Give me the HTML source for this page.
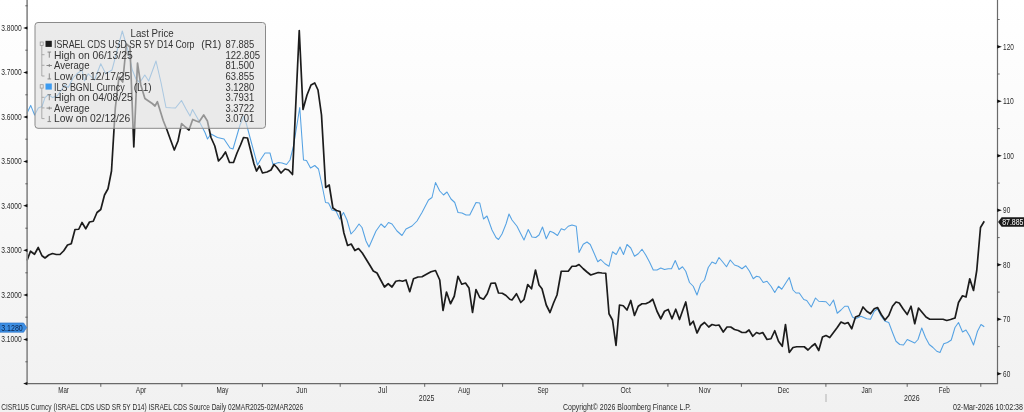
<!DOCTYPE html>
<html><head><meta charset="utf-8"><title>Chart</title>
<style>html,body{margin:0;padding:0;background:#fff}svg{display:block}text{font-family:"Liberation Sans",sans-serif;fill:#2a2a2a}.lg text{fill:#333}</style></head><body>
<svg width="1024" height="412" viewBox="0 0 1024 412">
<defs><linearGradient id="bg" x1="0" y1="0" x2="0" y2="1"><stop offset="0" stop-color="#ffffff"/><stop offset="1" stop-color="#f1f1f1"/></linearGradient></defs>
<rect x="0" y="0" width="1024" height="412" fill="url(#bg)"/>
<polyline points="26.8,113.5 30.7,105.4 34.6,115 38.3,108 42,106.5 45,97.6 48.5,94.5 52.5,97.6 57,96 60.75,91 64.5,85 68.25,87.5 73.25,77.5 77,73.75 82,70 84.5,81 88.25,73.75 94.5,80 100.75,63.75 105.75,73.75 112,70 122.3,31 128.5,52.5 132.3,70 136,79 139.8,82.5 144.8,75 148.7,81 156,61 161,82.5 166,107.5 170.5,107.8 175.5,108 181.5,100.5 186,109 190,116 192.5,109.5 198.5,120 205,132.5 207.5,139 211,134 217.5,137.5 224,139 230,148 233,149 240,125 244,116 246,122.5 250,137.5 257.5,165 261,159 265,153 270,153 273,164.5 278.5,162.5 282,163 286.5,164.5 290,160 293.5,146 299.75,107.5 303.5,160 306.5,160.5 310.5,168 314.75,165.5 318.5,169 322,185 325.5,202.5 328.5,203 332,210 336,211 339.75,219 343.5,212.5 347,220 351,234 354.75,230 359,224 362,227.5 366,241 369,247 376,231 381,224 384.75,227.5 388.5,222.5 392,224 397,231 402,235.5 406,229 412,226 417,221 422,212.5 428.5,200 432,197.5 435.5,182.5 439.75,191 443.5,195 447,192 451,199 454.75,202.5 458,212.5 462,213 466,215 469.75,215 476,202.5 479.75,203 483.5,219 487,216 492,230 496,237.5 498.5,239.5 502,234 506,224 509,214 512,220 517,226.25 520.75,233.75 524,240 528.25,229.5 532,237 535.75,237.5 539,235 542.5,227 546.25,238.75 550,231.25 553.25,232.5 557.5,235.5 561.25,228.75 564.5,230 568.25,226.25 572,225 576.25,226.25 579,252.5 583.25,244.25 587,242 590.25,244.5 594,253 597.75,261.75 600.75,259.5 605,263.75 609,266.25 612.5,251.75 616.25,254.5 620,247 623.5,254.5 627,244.5 630.75,248 634.5,256.25 638.25,253.75 642,249.25 645.75,255 649.5,262 653.25,270 657,270 660.75,268 664.5,269.5 668.25,268.75 671.5,268.75 675.25,260.5 679,269.5 682.5,266.75 685.75,271.25 689.5,282.5 693.25,286.25 697,295 700.75,283.75 704.5,280 708.25,267.5 712,262 715.75,263.75 719,257.5 722.75,262 726.5,266.75 730.25,260 734.5,265 738.25,266.25 742,268.75 745.75,265.75 749.5,271.25 753.25,278.75 756.5,276.25 759.5,277 763.25,282.5 767,281.25 771,286.25 774.75,292.5 778.5,286.25 781.75,289.25 789.25,277.5 793,290 796,293 799.25,293 803.75,299.5 806.75,300.5 811.25,307 815.5,298 818.75,301.25 826,301.75 829.75,305.75 833.5,300 837.25,313.25 841,310 844.75,306.25 848,306.25 852.5,317 855.5,318.75 861,316.25 866.75,318.75 870.5,319.25 874.25,311.25 877.5,308.75 881.25,316.25 885,321.25 888.75,322.5 892.5,332.5 896,341.25 899.75,344.5 903.5,345 907.25,339.5 911,341.25 914.75,343 918,339.5 921.75,328 925.5,337.5 929.25,344.5 933,347.5 936.75,351.25 940,352.5 943.75,343.75 947.5,342.5 951.25,340 955,327.5 958.5,322.5 962.5,332 966,330 969.75,336.25 973.5,345 977.5,331.25 981,324.5 984.25,326.75" fill="none" stroke="#55a2e3" stroke-width="1.05" stroke-linejoin="round"/>
<polyline points="27,260.5 30.5,251.25 34.5,254.25 38.25,247.5 42,255.75 45,258 48.75,255 52.5,253.5 56.25,254.5 60,254.5 63.75,250.75 67.5,245 71.25,243.75 75,229.5 78.75,229.25 82,222.5 85.75,228.75 89.5,222 93.25,221.25 97,212.5 100.75,209.5 104.5,195 108,188.75 111.5,171 115.3,108 119,77 122.7,82 126.4,44 130,47 133.8,147 137.5,63 140.8,85 144.9,98.5 148.5,101 152.2,103.5 155,106 157.4,101.7 163.2,120.5 167,130 170.6,140 174.3,150 178,141 181.6,123.5 185.3,127 189,130 192.7,119.5 196.3,121 199,122 203.7,115 207.4,121 211,137.5 214.8,146 218.5,161 222.2,157 225.5,152 229.5,162.5 233.5,162.5 237,153 240.5,145 243.5,137.5 247.5,138 251,152 254,164 256.5,171 259.5,166 262.5,173 267,172 271,170 274,164.5 277,167.5 281,173 285,169 288.5,170 292.5,174.5 299.25,30.5 303,109.5 307,95 311,85 314.75,83 318,90 321.5,115 325.7,187.5 329.2,185 332.9,208 336.5,210.5 340,211.5 343.9,233 347.6,245.5 351.2,244 354.9,250.5 358.5,248.5 362.3,253 366,259 369.7,265 373.3,271 377,273 380.7,280 384.5,287 388.2,283.75 392,287 395.8,281.25 399.5,280.5 402.5,281.25 406,280 409.75,291.75 413.5,278.75 418,277 422,276.75 426,274.5 431,271.75 435.5,270.5 439.75,280 443,310.5 446.5,292 450.5,303.75 454.25,296.25 458,276.25 461.75,284.25 465.5,283 469,288 472.5,312.5 476,289.5 479.75,297.5 483.5,299.25 487.25,293.75 491,283.25 495.25,283 498.5,293 502.25,293.25 506,295.5 509.75,299.25 512,300 516.5,293.75 520.75,302.5 524,299.5 527.75,284.5 531.5,288.75 535.5,270 539,285 542,288.75 546.25,305 550,312.5 553.75,302.5 557,295 561.25,271.25 565,271.25 568.25,271.25 572,266.25 575.75,266.25 579,264.5 583.25,268.75 587,272 590.75,275 594.5,273.7 598.25,272.5 602,273 605.75,273.25 609,313.75 612.5,320 616,345.5 619.5,305 623.25,305.75 627,310 630.75,300.5 634.5,315.5 638.25,306.25 642,303.75 645.75,303.75 649.5,302 652.75,299.25 657,311.25 660.75,318.75 664.5,311.25 668.25,309.5 672,318.75 675.75,309.25 679.5,319.5 682.5,311 685.75,302 690,325 693.25,321.25 697,333 700.75,325.5 704.5,322.5 708.75,327 712,324.5 715.75,325.5 719,325 723.25,332 727,327 730.75,327 734.5,329.5 738.25,330.5 742,332.5 745.75,332.5 749,330 752.75,336.25 756.5,332.5 759.5,333.75 762.75,332.5 767,339.5 771,338.75 774.75,330.75 778.5,341.25 782.25,346.25 785.5,324.5 789.25,352.5 793,347.5 796.75,346.75 800.5,346.75 804.25,346.75 808,350 811.75,346.25 815,343.75 818.75,350.5 822.5,337 826,335.5 829.75,337.5 833.5,332.5 837.25,327.5 841,322 844.75,323.75 848,322.5 851.75,328.75 855.5,317 859.25,315.5 863,307 866.75,311.25 870.5,313.75 874.25,308.75 877.5,307.5 881.25,314.5 885,320 888.75,315.5 892.5,306.25 896,302 899.25,303 903,308.75 907.25,314.5 911,306.25 914.75,323.75 918.5,308 922.25,312.5 926,317 929.75,319.25 933.5,319.25 937,319.25 940,319.25 943,319.25 946.75,320.5 950.5,319.5 955,318 958.5,302.5 962.5,295.75 966,297 969.75,278.75 973.5,290.5 976.75,270.5 980.5,227.5 984.25,221.25" fill="none" stroke="#1c1c1c" stroke-width="1.7" stroke-linejoin="round"/>
<g stroke="#6a6a6a" stroke-width="1.2">
<line x1="27.1" y1="0" x2="27.1" y2="384" stroke="#8c8c8c" stroke-width="1.7"/>
<line x1="997.5" y1="0" x2="997.5" y2="384"/>
<line x1="27" y1="383.6" x2="998" y2="383.6"/>
</g>
<g fill="#111">
<path d="M27.4,26.4 L23.2,28 L27.4,29.6 Z"/>
<path d="M27.4,70.9 L23.2,72.5 L27.4,74.1 Z"/>
<path d="M27.4,115.4 L23.2,117 L27.4,118.6 Z"/>
<path d="M27.4,159.9 L23.2,161.5 L27.4,163.1 Z"/>
<path d="M27.4,204.1 L23.2,205.7 L27.4,207.29999999999998 Z"/>
<path d="M27.4,248.70000000000002 L23.2,250.3 L27.4,251.9 Z"/>
<path d="M27.4,293.4 L23.2,295 L27.4,296.6 Z"/>
<path d="M27.4,337.9 L23.2,339.5 L27.4,341.1 Z"/>
<path d="M27.4,382 L23.2,383.6 L27.4,385.2 Z"/>
<path d="M997.2,45.099999999999994 L1001.8,46.8 L997.2,48.5 Z"/>
<path d="M997.2,99.6 L1001.8,101.3 L997.2,103.0 Z"/>
<path d="M997.2,154.10000000000002 L1001.8,155.8 L997.2,157.5 Z"/>
<path d="M997.2,208.60000000000002 L1001.8,210.3 L997.2,212.0 Z"/>
<path d="M997.2,263.1 L1001.8,264.8 L997.2,266.5 Z"/>
<path d="M997.2,317.6 L1001.8,319.3 L997.2,321.0 Z"/>
<path d="M997.2,372.1 L1001.8,373.8 L997.2,375.5 Z"/>
</g>
<g stroke="#555" stroke-width="0.9">
<line x1="25.3" y1="5.8" x2="27.5" y2="5.8"/>
<line x1="25.3" y1="50.2" x2="27.5" y2="50.2"/>
<line x1="25.3" y1="94.8" x2="27.5" y2="94.8"/>
<line x1="25.3" y1="139.2" x2="27.5" y2="139.2"/>
<line x1="25.3" y1="183.8" x2="27.5" y2="183.8"/>
<line x1="25.3" y1="228.2" x2="27.5" y2="228.2"/>
<line x1="25.3" y1="272.8" x2="27.5" y2="272.8"/>
<line x1="25.3" y1="317.2" x2="27.5" y2="317.2"/>
<line x1="25.3" y1="361.8" x2="27.5" y2="361.8"/>
<line x1="997.5" y1="19.5" x2="999.7" y2="19.5"/>
<line x1="997.5" y1="74.0" x2="999.7" y2="74.0"/>
<line x1="997.5" y1="128.6" x2="999.7" y2="128.6"/>
<line x1="997.5" y1="183.1" x2="999.7" y2="183.1"/>
<line x1="997.5" y1="237.6" x2="999.7" y2="237.6"/>
<line x1="997.5" y1="292.1" x2="999.7" y2="292.1"/>
<line x1="997.5" y1="346.6" x2="999.7" y2="346.6"/>
<line x1="100.8" y1="383.5" x2="100.8" y2="386.8"/>
<line x1="181.9" y1="383.5" x2="181.9" y2="386.8"/>
<line x1="262.4" y1="383.5" x2="262.4" y2="386.8"/>
<line x1="340.2" y1="383.5" x2="340.2" y2="386.8"/>
<line x1="424.7" y1="383.5" x2="424.7" y2="386.8"/>
<line x1="502.6" y1="383.5" x2="502.6" y2="386.8"/>
<line x1="582.9" y1="383.5" x2="582.9" y2="386.8"/>
<line x1="667.9" y1="383.5" x2="667.9" y2="386.8"/>
<line x1="741.4" y1="383.5" x2="741.4" y2="386.8"/>
<line x1="825.9" y1="383.5" x2="825.9" y2="386.8"/>
<line x1="907.2" y1="383.5" x2="907.2" y2="386.8"/>
<line x1="980.8" y1="383.5" x2="980.8" y2="386.8"/>
<line x1="826" y1="394" x2="826" y2="402" stroke="#aaa"/>
</g>
<g font-size="8.8">
<text x="1.20" y="30.90" textLength="20.40" lengthAdjust="spacingAndGlyphs" >3.8000</text>
<text x="1.20" y="75.40" textLength="20.40" lengthAdjust="spacingAndGlyphs" >3.7000</text>
<text x="1.20" y="119.90" textLength="20.40" lengthAdjust="spacingAndGlyphs" >3.6000</text>
<text x="1.20" y="164.40" textLength="20.40" lengthAdjust="spacingAndGlyphs" >3.5000</text>
<text x="1.20" y="208.60" textLength="20.40" lengthAdjust="spacingAndGlyphs" >3.4000</text>
<text x="1.20" y="253.20" textLength="20.40" lengthAdjust="spacingAndGlyphs" >3.3000</text>
<text x="1.20" y="297.90" textLength="20.40" lengthAdjust="spacingAndGlyphs" >3.2000</text>
<text x="1.20" y="342.40" textLength="20.40" lengthAdjust="spacingAndGlyphs" >3.1000</text>
<text x="1003.10" y="49.70" textLength="10.80" lengthAdjust="spacingAndGlyphs" >120</text>
<text x="1003.10" y="104.20" textLength="10.80" lengthAdjust="spacingAndGlyphs" >110</text>
<text x="1003.10" y="158.70" textLength="10.80" lengthAdjust="spacingAndGlyphs" >100</text>
<text x="1003.10" y="213.20" textLength="7.20" lengthAdjust="spacingAndGlyphs" >90</text>
<text x="1003.10" y="267.70" textLength="7.20" lengthAdjust="spacingAndGlyphs" >80</text>
<text x="1003.10" y="322.20" textLength="7.20" lengthAdjust="spacingAndGlyphs" >70</text>
<text x="1003.10" y="376.70" textLength="7.20" lengthAdjust="spacingAndGlyphs" >60</text>
<text x="58.30" y="392.50" textLength="10.60" lengthAdjust="spacingAndGlyphs" >Mar</text>
<text x="135.80" y="392.50" textLength="10.40" lengthAdjust="spacingAndGlyphs" >Apr</text>
<text x="216.40" y="392.50" textLength="12.00" lengthAdjust="spacingAndGlyphs" >May</text>
<text x="296.20" y="392.50" textLength="11.00" lengthAdjust="spacingAndGlyphs" >Jun</text>
<text x="378.00" y="392.50" textLength="9.00" lengthAdjust="spacingAndGlyphs" >Jul</text>
<text x="457.90" y="392.50" textLength="12.00" lengthAdjust="spacingAndGlyphs" >Aug</text>
<text x="537.50" y="392.50" textLength="11.00" lengthAdjust="spacingAndGlyphs" >Sep</text>
<text x="620.40" y="392.50" textLength="10.40" lengthAdjust="spacingAndGlyphs" >Oct</text>
<text x="698.60" y="392.50" textLength="12.00" lengthAdjust="spacingAndGlyphs" >Nov</text>
<text x="777.70" y="392.50" textLength="11.60" lengthAdjust="spacingAndGlyphs" >Dec</text>
<text x="861.55" y="392.50" textLength="10.40" lengthAdjust="spacingAndGlyphs" >Jan</text>
<text x="938.75" y="392.50" textLength="11.00" lengthAdjust="spacingAndGlyphs" >Feb</text>
<text x="418.75" y="401.20" textLength="15.60" lengthAdjust="spacingAndGlyphs" >2025</text>
<text x="904.00" y="400.60" textLength="15.60" lengthAdjust="spacingAndGlyphs" >2026</text>
<text x="1.30" y="409.80" textLength="301.80" lengthAdjust="spacingAndGlyphs" >CISR1U5 Curncy (ISRAEL CDS USD SR 5Y D14) ISRAEL CDS Source Daily 02MAR2025-02MAR2026</text>
<text x="563.00" y="409.80" textLength="128.00" lengthAdjust="spacingAndGlyphs" >Copyright© 2026 Bloomberg Finance L.P.</text>
<text x="953.00" y="409.80" textLength="70.00" lengthAdjust="spacingAndGlyphs" >02-Mar-2026 10:02:38</text>
</g>
<path d="M0,323 H23.6 L26.6,327.6 L23.6,332.2 H0 Z" fill="#3d8fe3" stroke="#2c73c8" stroke-width="0.7"/>
<g font-size="8.8">
<text x="1.20" y="330.60" textLength="21.60" lengthAdjust="spacingAndGlyphs" style="fill:#08204a">3.1280</text>
</g>
<path d="M1024,217.3 H1001.6 L998.1,222 L1001.6,226.7 H1024 Z" fill="#1a1a1a"/>
<g font-size="8.8">
<text x="1002.20" y="225.00" textLength="21.30" lengthAdjust="spacingAndGlyphs" style="fill:#fff">87.885</text>
</g>
<rect x="35" y="22.5" width="230.5" height="105.8" rx="3" ry="3" fill="rgba(222,222,222,0.62)" stroke="#8a8a8a" stroke-width="1"/>
<g font-size="10.2" class="lg">
<text x="130.5" y="37.1" textLength="43.25" lengthAdjust="spacingAndGlyphs">Last Price</text>
<text x="54" y="47.90" textLength="140.5" lengthAdjust="spacingAndGlyphs">ISRAEL CDS USD SR 5Y D14 Corp</text><text x="225.5" y="47.90" textLength="28.75" lengthAdjust="spacingAndGlyphs">87.885</text>
<text x="54" y="58.55" textLength="78.75" lengthAdjust="spacingAndGlyphs">High on 06/13/25</text><text x="225.5" y="58.55" textLength="34.5" lengthAdjust="spacingAndGlyphs">122.805</text>
<text x="54" y="69.20" textLength="35.5" lengthAdjust="spacingAndGlyphs">Average</text><text x="225.5" y="69.20" textLength="28.75" lengthAdjust="spacingAndGlyphs">81.500</text>
<text x="54" y="79.85" textLength="76.25" lengthAdjust="spacingAndGlyphs">Low on 12/17/25</text><text x="225.5" y="79.85" textLength="28.75" lengthAdjust="spacingAndGlyphs">63.855</text>
<text x="54" y="90.50" textLength="70.75" lengthAdjust="spacingAndGlyphs">ILS BGNL Curncy</text><text x="225.5" y="90.50" textLength="28.75" lengthAdjust="spacingAndGlyphs">3.1280</text>
<text x="54" y="101.15" textLength="78.75" lengthAdjust="spacingAndGlyphs">High on 04/08/25</text><text x="225.5" y="101.15" textLength="28.75" lengthAdjust="spacingAndGlyphs">3.7931</text>
<text x="54" y="111.80" textLength="35.5" lengthAdjust="spacingAndGlyphs">Average</text><text x="225.5" y="111.80" textLength="28.75" lengthAdjust="spacingAndGlyphs">3.3722</text>
<text x="54" y="122.45" textLength="76.25" lengthAdjust="spacingAndGlyphs">Low on 02/12/26</text><text x="225.5" y="122.45" textLength="28.75" lengthAdjust="spacingAndGlyphs">3.0701</text>
<text x="201.25" y="47.90" textLength="20" lengthAdjust="spacingAndGlyphs">(R1)</text><text x="133.75" y="90.50" textLength="18" lengthAdjust="spacingAndGlyphs">(L1)</text>
</g>
<rect x="45.5" y="40.8" width="6.3" height="6.1" fill="#1c1c1c"/>
<rect x="45.5" y="83.5" width="6.3" height="6.1" fill="#3d9bf0"/>
<g fill="none" stroke="#9a9a9a" stroke-width="0.8">
<rect x="40.2" y="42" width="3" height="3.4"/><rect x="40.2" y="84.7" width="3" height="3.4"/>
<path d="M41.8,45.4 V76 H44.5 M41.8,54.7 H44.5 M41.8,65.3 H44.5"/>
<path d="M41.8,88.1 V118.6 H44.5 M41.8,97.3 H44.5 M41.8,107.9 H44.5"/>
</g>
<g fill="none" stroke="#808080" stroke-width="0.9">
<path d="M47.5,52.05 H51.1 M49.3,52.05 V57.65"/>
<path d="M46.5,65.5 H52 M49.3,64.0 V67.0"/>
<path d="M47.5,78.95 H51.1 M49.3,78.95 V73.35000000000001"/>
<path d="M47.5,94.65 H51.1 M49.3,94.65 V100.25"/>
<path d="M46.5,108.1 H52 M49.3,106.6 V109.6"/>
<path d="M47.5,121.55 H51.1 M49.3,121.55 V115.95"/>
</g>
</svg></body></html>
